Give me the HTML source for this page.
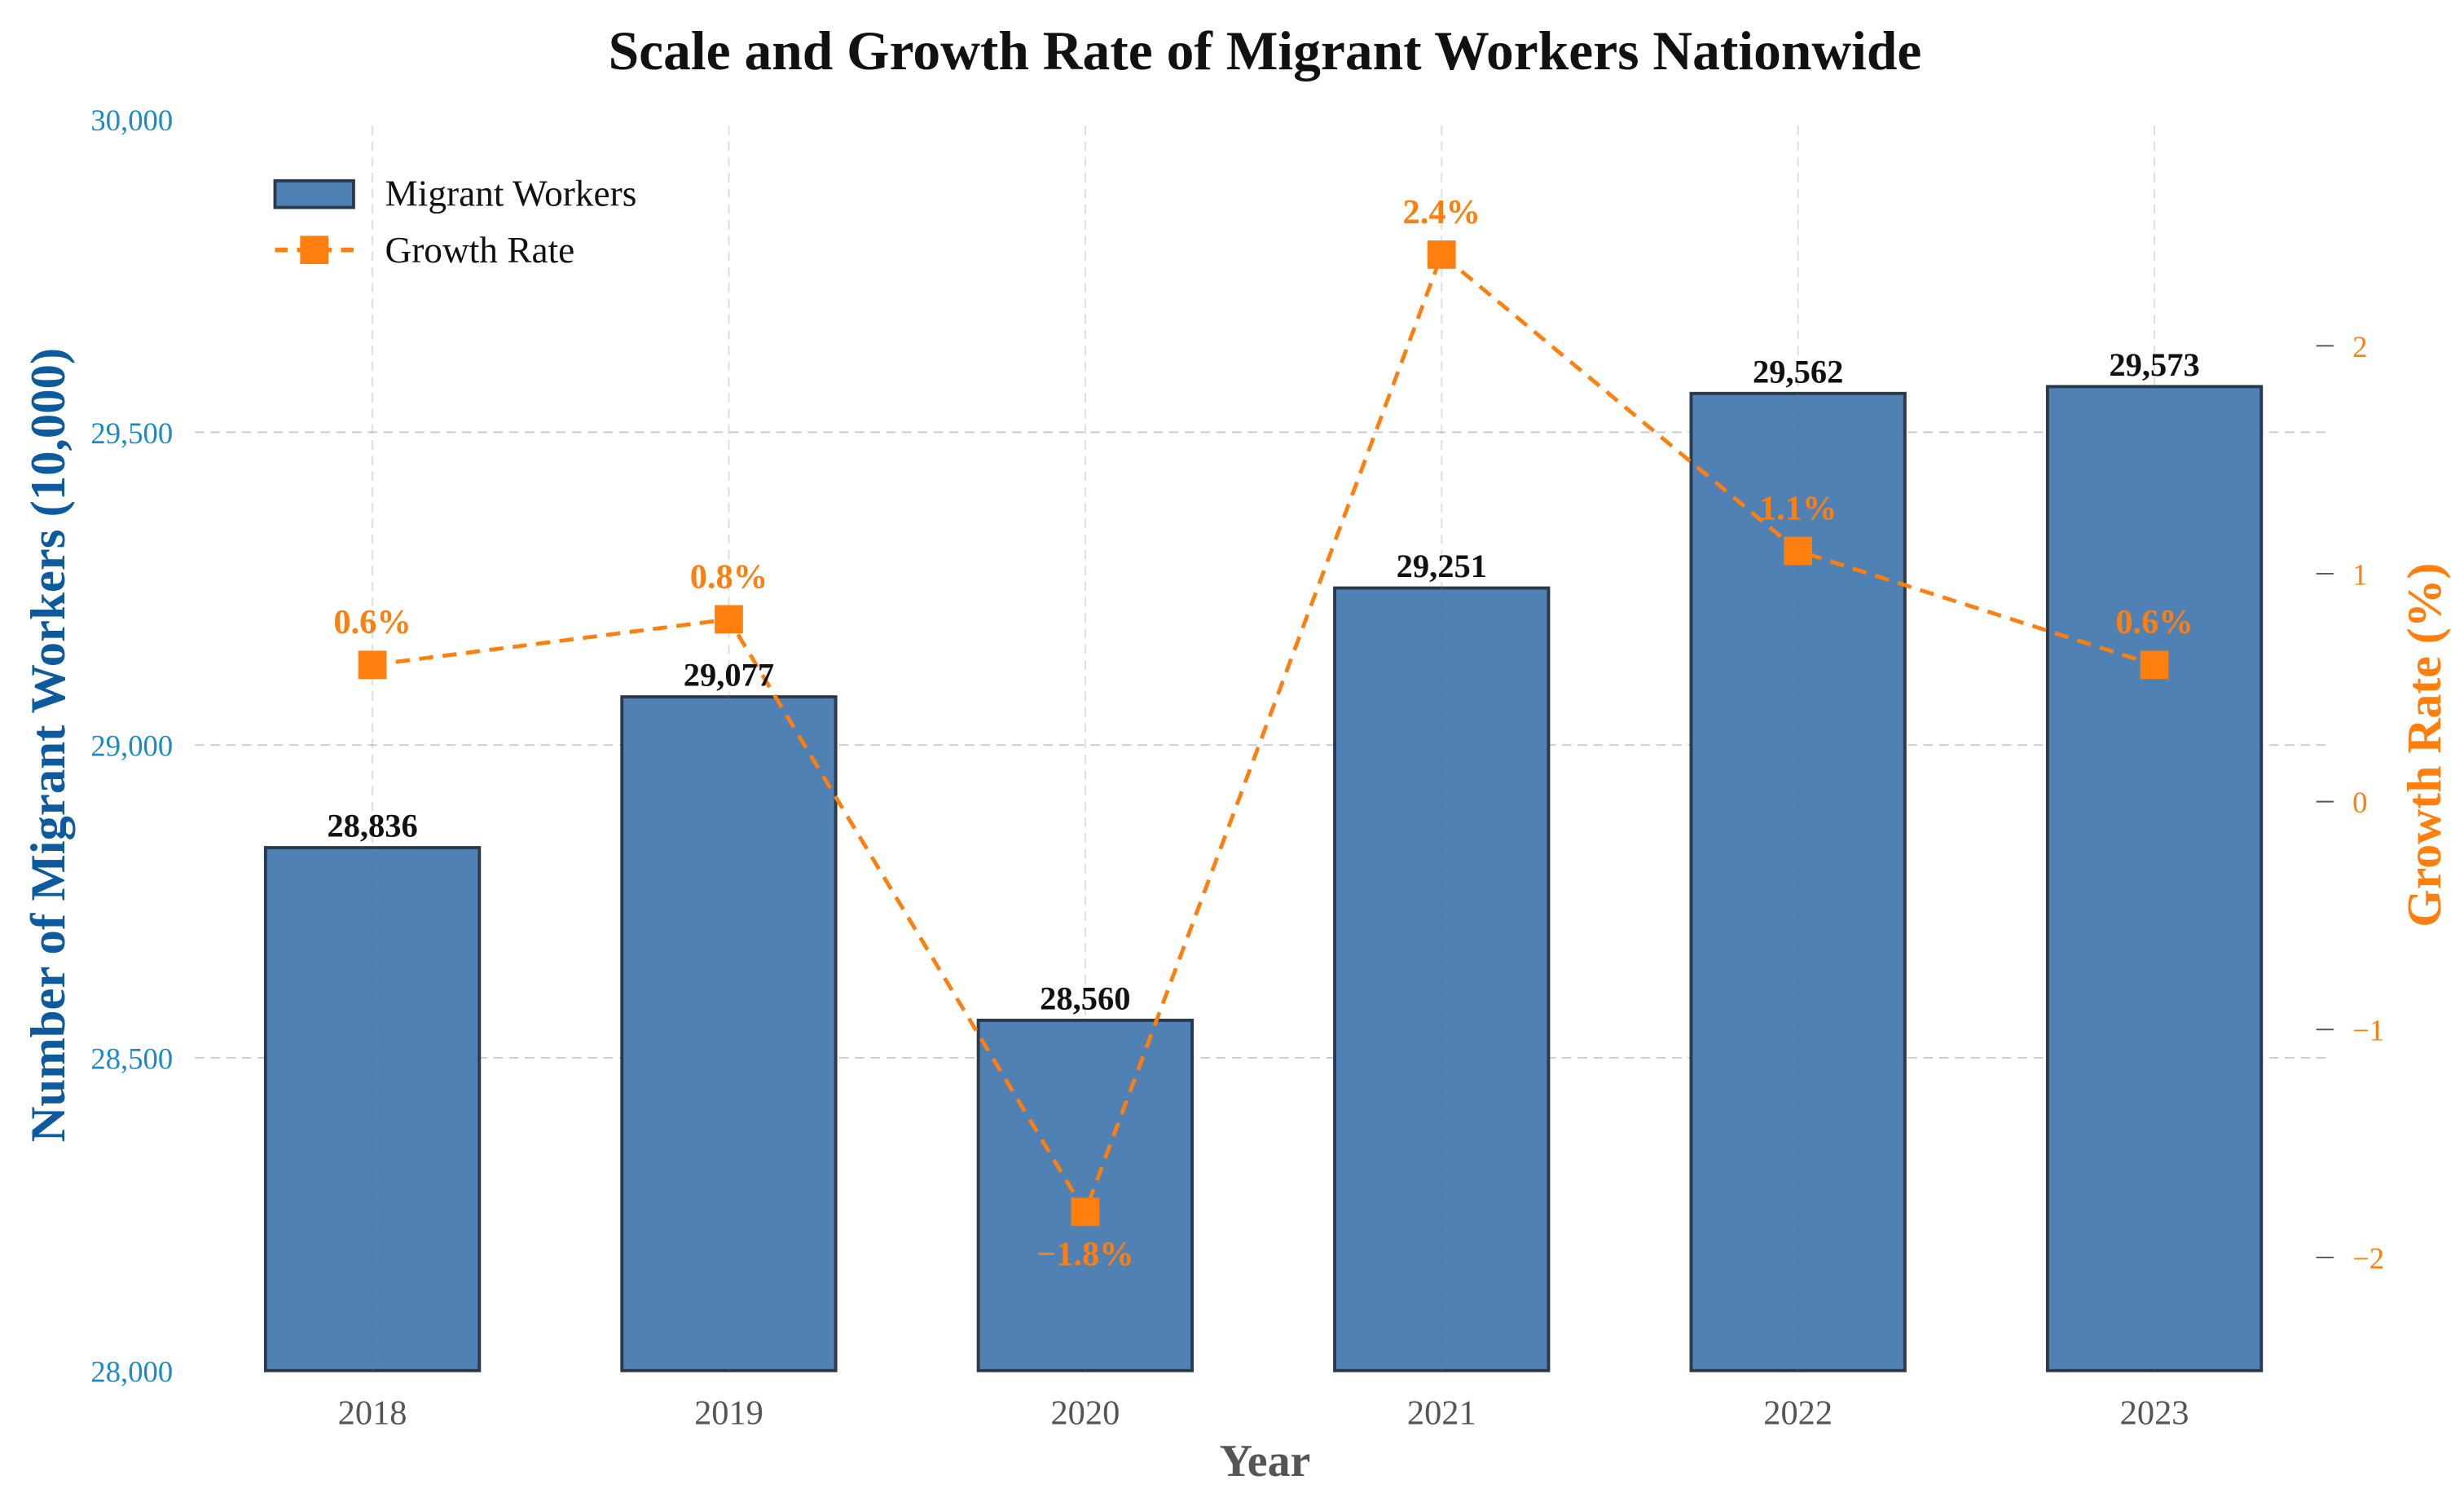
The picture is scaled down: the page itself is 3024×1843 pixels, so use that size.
<!DOCTYPE html>
<html><head><meta charset="utf-8"><style>
html,body{margin:0;padding:0;background:#fff;}
svg{display:block;font-family:"Liberation Serif",serif;}
</style></head><body>
<svg id="chart" width="3024" height="1843" viewBox="0 0 1568 955.6" preserveAspectRatio="none">
<rect width="1568" height="955.6" fill="#fff"/>
<text x="805" y="44" text-anchor="middle" font-size="35" font-weight="bold" fill="#111">Scale and Growth Rate of Migrant Workers Nationwide</text>
<g id="grid"></g><g id="bars"></g><g id="vgrid"></g><g id="line"></g><g id="labels"></g><g id="axes"></g>
<text transform="translate(41,474) rotate(-90)" text-anchor="middle" font-size="31.5" font-weight="bold" fill="#0d5a9e">Number of Migrant Workers (10,000)</text>
<text transform="translate(1553,474) rotate(-90)" text-anchor="middle" font-size="31" font-weight="bold" fill="#ff7f0e">Growth Rate (%)</text>
<text x="805" y="939" text-anchor="middle" font-size="29" font-weight="bold" fill="#555">Year</text>
<g>
<rect x="175" y="115" width="50" height="17" fill="#4f81b4" stroke="#2b3a4a" stroke-width="2"/>
<text x="245" y="131" font-size="23.5" fill="#111">Migrant Workers</text>
<line x1="175" y1="159" x2="225" y2="159" stroke="#ff7f0e" stroke-width="3" stroke-dasharray="8,6"/>
<rect x="191" y="150" width="18" height="18" fill="#ff7f0e"/>
<text x="245" y="167" font-size="23.5" fill="#111">Growth Rate</text>
</g>
</svg>
<script>
const years = ["2018","2019","2020","2021","2022","2023"];
const workers = [28836, 29077, 28560, 29251, 29562, 29573];
const growth = [0.6, 0.8, -1.8, 2.4, 1.1, 0.6];
const leftTicks = [28000, 28500, 29000, 29500, 30000];
const rightTicks = [-2, -1, 0, 1, 2];

const NS = "http://www.w3.org/2000/svg";
const x0 = 124, x1 = 1484, step = 226.8;
const xc = i => 237 + i * step;
const yL = v => 872 - (v - 28000) * (796 / 2000);
const yR = v => 510 - v * 145;
function mk(tag, attrs, parent, txt) {
  const e = document.createElementNS(NS, tag);
  for (const k in attrs) e.setAttribute(k, attrs[k]);
  if (txt !== undefined) e.textContent = txt;
  document.getElementById(parent).appendChild(e);
  return e;
}
const fmt = v => v.toLocaleString("en-US");
leftTicks.forEach(t => {
  if (t > 28000 && t < 30000) {
    const g = mk("line", {x1: x0, x2: x1, y1: yL(t), y2: yL(t), stroke: "#ccc", "stroke-width": 1, "stroke-dasharray": "6,4"}, "grid");
    
    
  }
  const tx = mk("text", {x: 110, y: yL(t) + 7, "text-anchor": "end", "font-size": 19, fill: "#1a8ac6"}, "axes", fmt(t));
  
  
});
rightTicks.forEach(t => {
  const l = mk("line", {x1: 1474, x2: 1485, y1: yR(t), y2: yR(t), stroke: "#555", "stroke-width": 1}, "axes");
  
  
  const tx = mk("text", {x: 1497, y: yR(t) + 7, "font-size": 19, fill: "#ff7f0e"}, "axes", t < 0 ? "\u2212" + Math.abs(t) : String(t));
  
  
});
const bw = step * 0.6;
workers.forEach((v, i) => {
  const r = mk("rect", {x: xc(i) - bw / 2, y: yL(v), width: bw, height: 872 - yL(v), fill: "#4f81b4", stroke: "#2b3a4a", "stroke-width": 2}, "bars");
  
  
  const vg = mk("line", {x1: xc(i), x2: xc(i), y1: 80, y2: 872, stroke: "rgba(120,120,120,0.25)", "stroke-width": 1, "stroke-dasharray": "6,4"}, "vgrid");
  
  
  const t = mk("text", {x: xc(i), y: yL(v) - 7, "text-anchor": "middle", "font-size": 21, "font-weight": "bold", fill: "#111"}, "labels", fmt(v));
  
  
  const xt = mk("text", {x: xc(i), y: 906, "text-anchor": "middle", "font-size": 22, fill: "#555"}, "axes", years[i]);
  
  
});
const pts = growth.map((g, i) => xc(i) + "," + yR(g)).join(" ");
const pl = mk("polyline", {points: pts, fill: "none", stroke: "#ff7f0e", "stroke-width": 2.5, "stroke-dasharray": "9,6"}, "line");


growth.forEach((g, i) => {
  const m = mk("rect", {x: xc(i) - 9, y: yR(g) - 9, width: 18, height: 18, fill: "#ff7f0e"}, "line");
  
  
  const ly = g < 0 ? yR(g) + 34 : yR(g) - 20;
  const t = mk("text", {x: xc(i), y: ly, "text-anchor": "middle", "font-size": 22, "font-weight": "bold", fill: "#ff7f0e"}, "labels", (g < 0 ? "\u2212" + Math.abs(g).toFixed(1) : g.toFixed(1)) + "%");
  
  
});
</script>
</body></html>
